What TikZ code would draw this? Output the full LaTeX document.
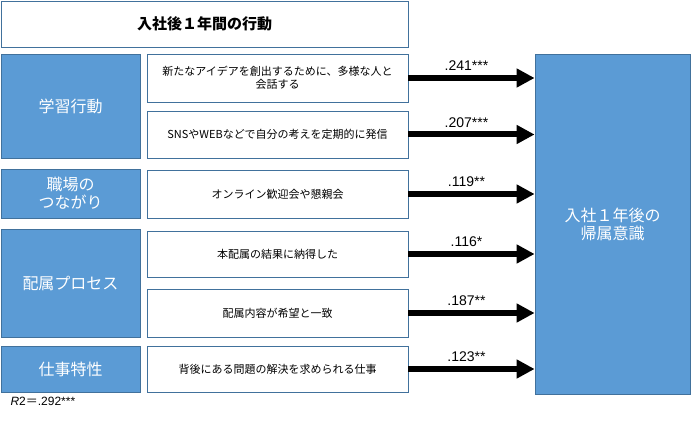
\documentclass[tikz,border=0pt]{standalone}
\usepackage{fontspec}
\setmainfont{Noto Sans CJK JP}
\newfontfamily\numfont{Liberation Sans}
\usepackage{tikz}
\usetikzlibrary{arrows.meta}

\definecolor{boxblue}{HTML}{5B9BD5}
\definecolor{edgeblue}{HTML}{41719C}

\begin{document}
\begin{tikzpicture}[x=1pt,y=-1pt]
	\useasboundingbox (0,0) rectangle (691,422);
	\begin{scope}[every node/.style = {rectangle, draw=edgeblue, line width=0.8pt,
			inner sep=2pt, align=center}]
		% title
		\node[minimum width=407pt, minimum height=46pt,
			font=\bfseries\fontsize{15}{17}\selectfont] (T) at (204.5,24) {入社後１年間の行動};
	\end{scope}
	\begin{scope}[every node/.style = {rectangle, draw=edgeblue, fill=boxblue, line width=0.8pt,
			minimum width=139pt, text=white, align=center,
			font=\fontsize{16}{18}\selectfont}]
		\node[minimum height=104pt] (G1) at (70.5,106) {学習行動};
		\node[minimum height=49pt] (G2) at (70.5,193.5) {職場の\\つながり};
		\node[minimum height=108pt] (G3) at (70.5,283) {配属プロセス};
		\node[minimum height=46pt] (G4) at (70.5,369) {仕事特性};
		\node[minimum width=155pt, minimum height=340pt] (Y) at (612.5,224) {入社１年後の\\帰属意識};
	\end{scope}
	\begin{scope}[every node/.style = {rectangle, draw=edgeblue, fill=white, line width=0.8pt,
			minimum width=261pt, align=center, font=\fontsize{11}{13}\selectfont}]
		\node[minimum height=48pt] (M1) at (277.5,78) {新たなアイデアを創出するために、多様な人と\\会話する};
		\node[minimum height=47pt] (M2) at (277.5,134.5) {SNSやWEBなどで自分の考えを定期的に発信};
		\node[minimum height=48pt] (M3) at (277.5,194) {オンライン歓迎会や懇親会};
		\node[minimum height=46pt] (M4) at (277.5,254) {本配属の結果に納得した};
		\node[minimum height=48pt] (M5) at (277.5,313) {配属内容が希望と一致};
		\node[minimum height=46pt] (M6) at (277.5,369) {背後にある問題の解決を求められる仕事};
	\end{scope}
	\begin{scope}[>={Triangle[length=18pt,width=18pt]},
			every edge/.style={draw=black, line width=6pt},
			every node/.style={above, xshift=-5pt, yshift=1pt, font=\numfont\fontsize{14}{16}\selectfont}]
		\path [->] (M1.east) edge node {.241***} (M1.east -| Y.west);
		\path [->] (M2.east) edge node {.207***} (M2.east -| Y.west);
		\path [->] (M3.east) edge node {.119**} (M3.east -| Y.west);
		\path [->] (M4.east) edge node {.116*} (M4.east -| Y.west);
		\path [->] (M5.east) edge node {.187**} (M5.east -| Y.west);
		\path [->] (M6.east) edge node {.123**} (M6.east -| Y.west);
	\end{scope}
	\node[anchor=west, font=\numfont\fontsize{12}{14}\selectfont] (R) at (7,401) {\textit{R}2{\normalfont\fontsize{12}{14}\selectfont ＝}.292***};
\end{tikzpicture}
\end{document}
